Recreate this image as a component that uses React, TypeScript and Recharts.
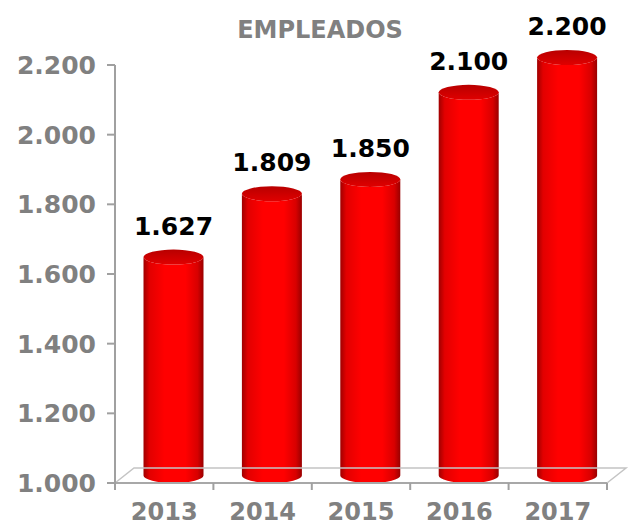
import { BarChart, Bar, XAxis, YAxis, ReferenceLine, LabelList } from 'recharts';

const years = ['2013', '2014', '2015', '2016', '2017'];
const empleados = [1627, 1809, 1850, 2100, 2200];
const yTicks = [1000, 1200, 1400, 1600, 1800, 2000, 2200];

const data = years.map((year, i) => ({ year, value: empleados[i] }));

const FONT = '"DejaVu Sans", Verdana, sans-serif';
const GREY = '#808080';
// 3D depth of the floor, bars sit halfway back
const DEPTH_X = 19;
const DEPTH_Y = -15;
const RY = 7.5;

const fmt = (n: number) => String(n).replace(/\B(?=(\d{3})+(?!\d))/g, '.');

// eslint-disable-next-line @typescript-eslint/no-explicit-any
function Cylinder({ x, y, width, height }: any) {
  const rx = width / 2;
  const cx = x + rx + DEPTH_X / 2;
  const top = y + DEPTH_Y / 2;
  const bottom = y + height + DEPTH_Y / 2;
  const body = `M${cx - rx},${top} L${cx - rx},${bottom} A${rx},${RY} 0 0 0 ${cx + rx},${bottom} L${cx + rx},${top} A${rx},${RY} 0 0 1 ${cx - rx},${top} Z`;
  return (
    <g>
      <path d={body} fill="url(#cylBody)" />
      <ellipse cx={cx} cy={top} rx={rx} ry={RY} fill="url(#cylTop)" />
    </g>
  );
}

// eslint-disable-next-line @typescript-eslint/no-explicit-any
function ValueLabel({ x, y, width, value }: any) {
  const cx = x + width / 2 + DEPTH_X / 2;
  return (
    <text x={cx} y={y + DEPTH_Y / 2 - RY - 15} textAnchor="middle" fill="#000" fontSize={25} fontWeight="bold" fontFamily={FONT}>
      {fmt(value)}
    </text>
  );
}

// floor of the 3D plot, with tick marks on the category boundaries
// eslint-disable-next-line @typescript-eslint/no-explicit-any
function Floor({ x1, y1, x2, y2 }: any) {
  const back = `M${x1},${y1} L${x1 + DEPTH_X},${y1 + DEPTH_Y} L${x2 + DEPTH_X},${y2 + DEPTH_Y} L${x2},${y2}`;
  const step = (x2 - x1) / years.length;
  return (
    <g>
      <path d={back} fill="none" stroke="#c4c4c4" strokeWidth={1.5} />
      <line x1={x1} y1={y1} x2={x2} y2={y2} stroke="#a8a8a8" strokeWidth={2} />
      {[...years, ''].map((_, i) => (
        <line key={i} x1={x1 + i * step} y1={y1} x2={x1 + i * step} y2={y1 + 7} stroke="#a0a0a0" strokeWidth={2} />
      ))}
    </g>
  );
}

export default function App() {
  return (
    <div style={{ position: 'absolute', left: 0, top: 0, width: 634, height: 527, background: '#fff' }}>
      <div
        style={{
          position: 'absolute',
          left: 0,
          width: 640,
          top: 16,
          textAlign: 'center',
          fontFamily: FONT,
          fontWeight: 'bold',
          fontSize: 24,
          color: GREY,
          lineHeight: '28px',
        }}
      >
        EMPLEADOS
      </div>
      <BarChart width={634} height={527} data={data} margin={{ top: 65, right: 27, left: 0, bottom: 0 }}>
        <defs>
          <linearGradient id="cylBody" x1="0" y1="0" x2="1" y2="0">
            <stop offset="0%" stopColor="#a00000" />
            <stop offset="10%" stopColor="#e20000" />
            <stop offset="35%" stopColor="#ff0000" />
            <stop offset="70%" stopColor="#ff0000" />
            <stop offset="90%" stopColor="#d80000" />
            <stop offset="100%" stopColor="#990000" />
          </linearGradient>
          <linearGradient id="cylTop" x1="0" y1="0" x2="0" y2="1">
            <stop offset="0%" stopColor="#b80000" />
            <stop offset="100%" stopColor="#e00000" />
          </linearGradient>
        </defs>
        <XAxis
          dataKey="year"
          height={44}
          axisLine={false}
          tickLine={false}
          tickSize={0}
          tickMargin={20}
          interval={0}
          tick={{ fill: GREY, fontSize: 24, fontWeight: 'bold', fontFamily: FONT }}
        />
        <YAxis
          domain={[1000, 2200]}
          ticks={yTicks}
          interval={0}
          width={115}
          axisLine={{ stroke: '#a0a0a0', strokeWidth: 2 }}
          tickLine={{ stroke: '#a0a0a0', strokeWidth: 2 }}
          tickSize={8}
          tickMargin={11}
          tickFormatter={fmt}
          tick={{ fill: GREY, fontSize: 25, fontWeight: 'bold', fontFamily: FONT }}
        />
        <ReferenceLine y={1000} shape={<Floor />} />
        <Bar dataKey="value" barSize={60} shape={<Cylinder />} isAnimationActive={false}>
          <LabelList dataKey="value" content={<ValueLabel />} />
        </Bar>
      </BarChart>
    </div>
  );
}
